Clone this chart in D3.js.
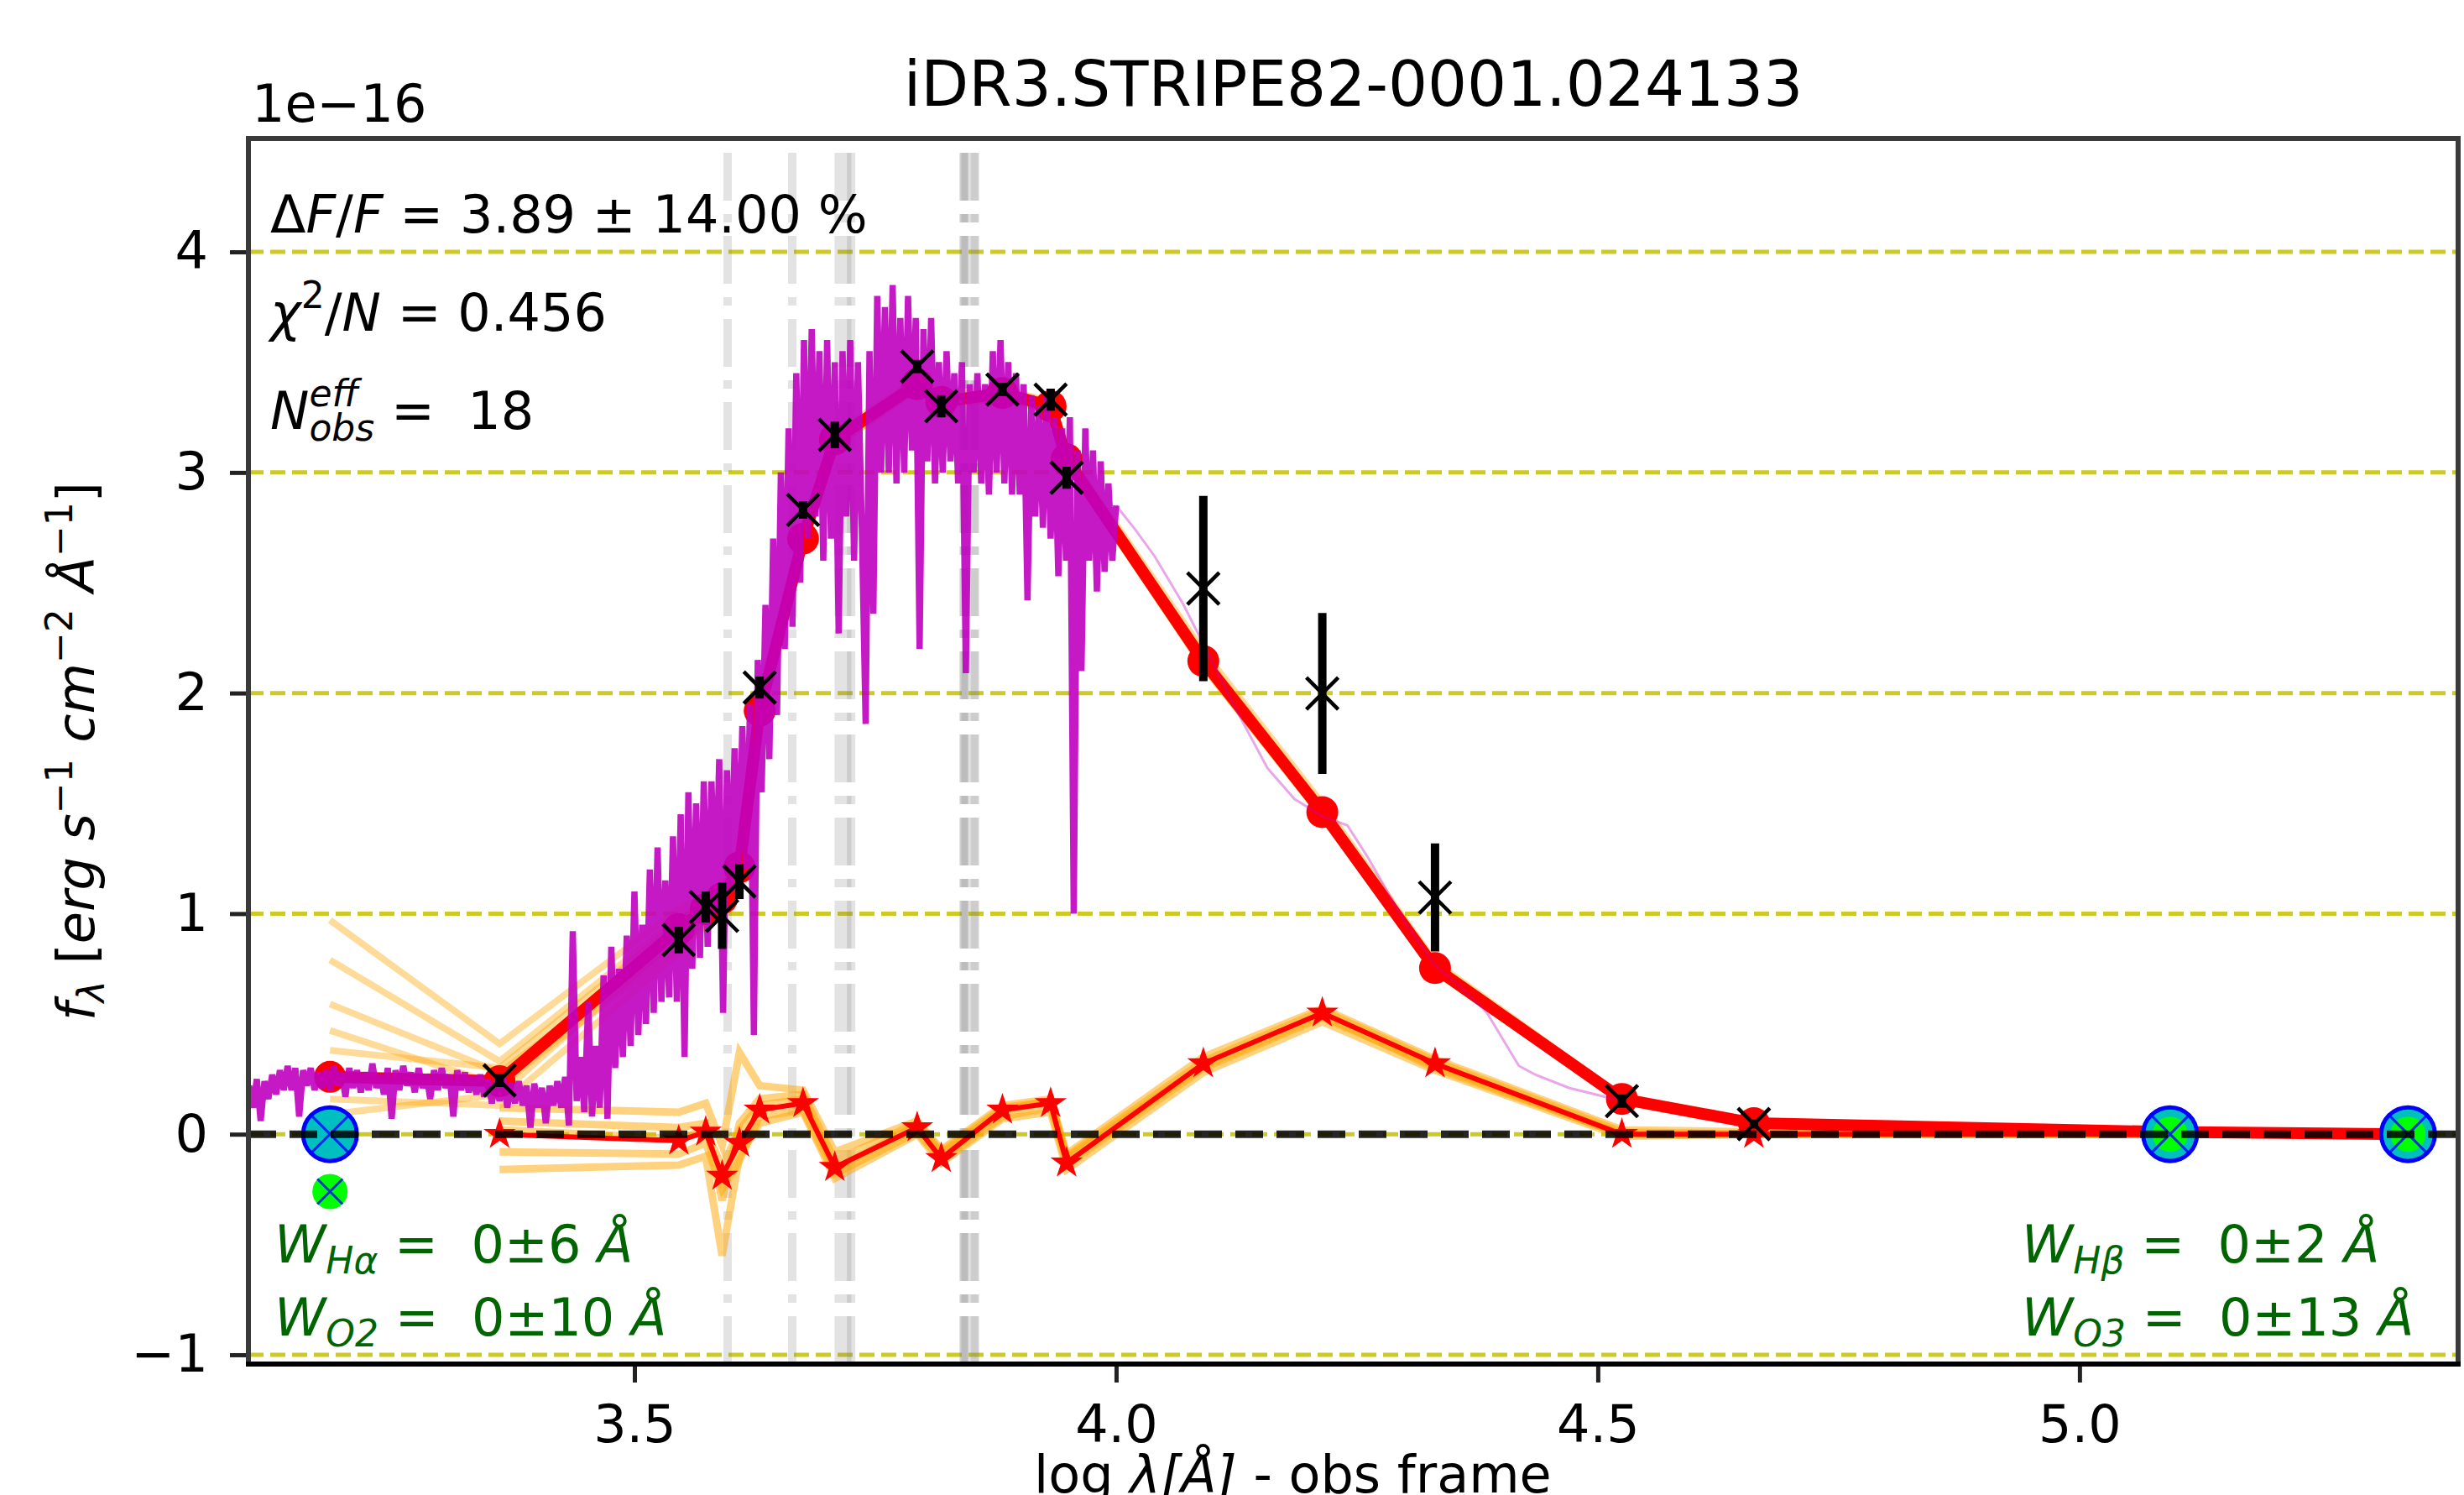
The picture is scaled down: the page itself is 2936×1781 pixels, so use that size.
<!DOCTYPE html>
<html lang="en">
<head>
<meta charset="UTF-8">
<title>iDR3.STRIPE82-0001.024133</title>
<script src="https://d3js.org/d3.v7.min.js"></script>
<style>
  body { margin: 0; background: #fff; }
  svg text { font-family: "DejaVu Sans", sans-serif; white-space: pre; }
  .axis path { display: none; }
  .axis line { stroke: #222; stroke-width: 5; }
  .axis text { font-size: 62px; fill: #000; font-family: "DejaVu Sans", sans-serif; }
</style>
</head>
<body>
<script>
// photometric filters: pivot log(lambda) and fluxes in units of 1e-16
const filterLogLam = [3.184, 3.360, 3.546, 3.574, 3.591, 3.609, 3.630, 3.675, 3.708, 3.7935, 3.8185,
                      3.882, 3.932, 3.9486, 4.0905, 4.214, 4.331, 4.525, 4.662, 5.094, 5.341];
const modelFlux = [0.26, 0.24, 0.93, 1.02, 1.07, 1.21, 1.92, 2.70, 3.15, 3.40, 3.32,
                   3.36, 3.30, 3.06, 2.145, 1.46, 0.753, 0.16, 0.05, 0.01, 0.0];
const obsFlux = [null, 0.244, 0.88, 1.03, 0.99, 1.146, 2.025, 2.83, 3.17, 3.48, 3.30,
                 3.376, 3.33, 2.976, 2.474, 1.998, 1.073, 0.15, 0.046, null, null];
const obsErr = [null, 0.03, 0.06, 0.07, 0.15, 0.08, 0.05, 0.04, 0.06, 0.03, 0.05,
                0.03, 0.05, 0.05, 0.42, 0.365, 0.245, 0.03, 0.02, null, null];
// emission-line model (stars)
const lineFlux = [null, 0.0, -0.03, 0.01, -0.19, -0.04, 0.11, 0.14, -0.15, 0.03, -0.11,
                  0.11, 0.14, -0.13, 0.32, 0.55, 0.32, 0.0, 0.0, 0.0, 0.0];
// flagged points
const flaggedLogLam = [3.184, 5.094, 5.341];
const flaggedFlux = [0, 0, 0];
const flaggedModel = [-0.26, 0, 0];

// bootstrap realisations of the continuum model
const bootModel = [
  [0.97, 0.41, 1.02, 1.08, 1.12, 1.26, 1.96, 2.74, 3.18, 3.42, 3.35, 3.38, 3.32, 3.09, 2.19, 1.50, 0.78, 0.17, 0.06, 0.01, 0.0],
  [0.79, 0.33, 0.98, 1.05, 1.10, 1.24, 1.94, 2.72, 3.16, 3.41, 3.33, 3.37, 3.31, 3.07, 2.17, 1.48, 0.77, 0.17, 0.05, 0.01, 0.0],
  [0.59, 0.28, 0.88, 0.99, 1.04, 1.19, 1.90, 2.68, 3.13, 3.39, 3.31, 3.35, 3.29, 3.05, 2.13, 1.45, 0.74, 0.16, 0.05, 0.01, 0.0],
  [0.47, 0.22, 0.85, 0.97, 1.03, 1.18, 1.89, 2.67, 3.12, 3.38, 3.30, 3.34, 3.28, 3.04, 2.12, 1.44, 0.74, 0.15, 0.05, 0.01, 0.0],
  [0.38, 0.30, 0.96, 1.04, 1.09, 1.23, 1.93, 2.71, 3.16, 3.41, 3.33, 3.37, 3.31, 3.07, 2.16, 1.47, 0.76, 0.16, 0.05, 0.01, 0.0],
  [0.16, 0.13, 0.82, 0.95, 1.01, 1.16, 1.88, 2.66, 3.12, 3.38, 3.30, 3.34, 3.28, 3.04, 2.12, 1.44, 0.74, 0.15, 0.05, 0.01, 0.0],
  [0.09, 0.18, 0.90, 1.00, 1.05, 1.20, 1.91, 2.69, 3.14, 3.39, 3.31, 3.35, 3.29, 3.05, 2.14, 1.45, 0.75, 0.16, 0.05, 0.01, 0.0]
];
// bootstrap realisations of the emission-line model
const bootLines = [
  [null, 0.12, 0.10, 0.14, -0.05, 0.37, 0.22, 0.20, -0.08, 0.06, -0.07, 0.13, 0.16, -0.09, 0.35, 0.57, 0.34, 0.02, 0.01, 0.0, 0.0],
  [null, -0.16, -0.14, -0.10, -0.55, -0.10, 0.05, 0.10, -0.20, 0.00, -0.13, 0.07, 0.10, -0.16, 0.28, 0.51, 0.29, -0.01, 0.0, 0.0, 0.0],
  [null, 0.06, 0.03, 0.05, -0.30, 0.05, 0.16, 0.18, -0.12, 0.05, -0.08, 0.12, 0.15, -0.10, 0.33, 0.56, 0.33, 0.01, 0.0, 0.0, 0.0],
  [null, -0.08, -0.09, -0.04, -0.25, -0.12, 0.08, 0.11, -0.18, 0.01, -0.12, 0.08, 0.12, -0.14, 0.30, 0.53, 0.31, 0.0, 0.0, 0.0, 0.0],
  [null, 0.02, -0.02, 0.02, -0.15, 0.02, 0.13, 0.16, -0.16, 0.04, -0.09, 0.11, 0.15, -0.11, 0.31, 0.54, 0.30, 0.0, 0.0, 0.0, 0.0]
];

// observed spectrum, log(lambda) = specStart + i * specStep
const specStart = 3.100, specStep = 0.004;
const specFlux = [
  0.22, 0.12, 0.25, 0.06, 0.24, 0.16, 0.27, 0.18, 0.29, 0.20,
  0.31, 0.20, 0.30, 0.08, 0.29, 0.22, 0.30, 0.20, 0.28, 0.21,
  0.29, 0.20, 0.31, 0.22, 0.28, 0.17, 0.30, 0.21, 0.29, 0.19,
  0.28, 0.20, 0.32, 0.21, 0.27, 0.18, 0.30, 0.07, 0.29, 0.20,
  0.31, 0.22, 0.28, 0.19, 0.30, 0.21, 0.27, 0.16, 0.29, 0.20,
  0.30, 0.21, 0.27, 0.08, 0.29, 0.20, 0.28, 0.19, 0.26, 0.18,
  0.27, 0.17, 0.25, 0.14, 0.24, 0.15, 0.26, 0.12, 0.23, 0.14,
  0.24, 0.13, 0.22, 0.03, 0.23, 0.12, 0.21, 0.05, 0.22, 0.13,
  0.24, 0.12, 0.26, 0.04, 0.92, 0.15, 0.35, 0.10, 0.60, 0.08,
  0.40, 0.12, 0.72, 0.07, 0.85, 0.30, 0.75, 0.35, 0.90, 0.40,
  1.10, 0.45, 0.95, 0.50, 1.20, 0.55, 1.30, 0.60, 1.15, 0.62,
  1.35, 0.60, 1.45, 0.35, 1.55, 0.75, 1.50, 0.80, 1.60, 0.85,
  1.60, 1.00, 1.70, 0.55, 1.65, 1.10, 1.75, 1.15, 1.85, 1.20,
  1.95, 0.45, 2.15, 1.55, 2.40, 1.70, 2.70, 1.90, 3.00, 2.20,
  3.20, 2.30, 3.45, 2.50, 3.60, 2.70, 3.65, 2.80, 3.55, 2.60,
  3.60, 2.70, 3.50, 2.27, 3.55, 2.80, 3.60, 2.60, 3.50, 2.75,
  1.86, 3.55, 2.36, 3.80, 3.00, 3.75, 3.00, 3.85, 2.95, 3.70,
  3.00, 3.80, 3.10, 3.70, 2.20, 3.65, 3.05, 3.70, 2.95, 3.50,
  3.00, 3.55, 3.05, 3.45, 2.95, 3.50, 2.09, 3.40, 3.00, 3.45,
  2.95, 3.40, 2.90, 3.55, 3.00, 3.60, 2.95, 3.50, 2.90, 3.45,
  2.90, 3.40, 2.42, 3.35, 2.80, 3.30, 2.75, 3.35, 2.70, 3.25,
  2.53, 3.20, 2.60, 3.25, 1.00, 3.10, 2.10, 3.20, 2.60, 3.10,
  2.46, 3.05, 2.55, 2.95, 2.60, 2.85
];
const specTailLogLam = [4.000, 4.02, 4.04, 4.07, 4.10, 4.13, 4.157, 4.185, 4.215, 4.24,
                        4.262, 4.30, 4.33, 4.36, 4.385, 4.418, 4.435, 4.47, 4.507, 4.52];
const specTailFlux = [2.85, 2.74, 2.62, 2.40, 2.14, 1.88, 1.66, 1.52, 1.44, 1.40,
                      1.25, 0.96, 0.77, 0.66, 0.55, 0.31, 0.27, 0.21, 0.17, 0.16];

// emission line positions (obs frame)
const emissionLogLam = [3.5967, 3.6638, 3.7121, 3.7208, 3.7249, 3.8415, 3.8425, 3.8439, 3.8526, 3.8535];
const gridLevels = [-1, 0, 1, 2, 3, 4];
const yTicks = [-1, 0, 1, 2, 3, 4];
const xTicks = [3.5, 4.0, 4.5, 5.0];

// Set dimensions
const width = 2936, height = 1781;
const plot = {left: 296, right: 2929, top: 165, bottom: 1625};

const svg = d3.select("body").append("svg")
    .attr("width", width)
    .attr("height", height);

const x = d3.scaleLinear().domain([3.0993, 5.393]).range([plot.left, plot.right]);
const y = d3.scaleLinear().domain([-1.042, 4.514]).range([plot.bottom, plot.top]);

svg.append("clipPath").attr("id", "clip")
  .append("rect")
    .attr("x", plot.left).attr("y", plot.top)
    .attr("width", plot.right - plot.left).attr("height", plot.bottom - plot.top);

const area = svg.append("g").attr("clip-path", "url(#clip)");

const line = d3.line()
    .defined(d => d[1] != null)
    .x(d => x(d[0]))
    .y(d => y(d[1]));

// yellow dashed levels
area.selectAll(".grid")
    .data(gridLevels)
    .enter().append("line")
    .attr("x1", plot.left).attr("x2", plot.right)
    .attr("y1", d => y(d)).attr("y2", d => y(d))
    .attr("stroke", "#c4c000")
    .attr("stroke-opacity", 0.85)
    .attr("stroke-width", 5)
    .attr("stroke-dasharray", "18,8");

// emission lines (grey dash-dot)
area.selectAll(".eline")
    .data(emissionLogLam)
    .enter().append("line")
    .attr("x1", d => x(d)).attr("x2", d => x(d))
    .attr("y1", plot.bottom).attr("y2", plot.top)
    .attr("stroke", "#808080")
    .attr("stroke-opacity", 0.22)
    .attr("stroke-width", 10)
    .attr("stroke-dasharray", "57,16,10,16");

// bootstrap models
area.selectAll(".bootModel")
    .data(bootModel)
    .enter().append("path")
    .attr("d", vals => line(vals.map((v, i) => [filterLogLam[i], v])))
    .attr("fill", "none")
    .attr("stroke", "orange")
    .attr("stroke-opacity", 0.4)
    .attr("stroke-width", 8);

area.selectAll(".bootLines")
    .data(bootLines)
    .enter().append("path")
    .attr("d", vals => line(vals.map((v, i) => [filterLogLam[i], v])))
    .attr("fill", "none")
    .attr("stroke", "orange")
    .attr("stroke-opacity", 0.5)
    .attr("stroke-width", 9);

// best model
const modelPts = modelFlux.map((v, i) => [filterLogLam[i], v]);
area.append("path")
    .attr("d", line(modelPts))
    .attr("fill", "none")
    .attr("stroke", "red")
    .attr("stroke-width", 14)
    .attr("stroke-linejoin", "round");

area.selectAll(".modelDot")
    .data(modelPts)
    .enter().append("circle")
    .attr("cx", d => x(d[0])).attr("cy", d => y(d[1]))
    .attr("r", 19)
    .attr("fill", "red");

// spectrum
const specPts = specFlux.map((v, i) => [specStart + i * specStep, v]);
area.append("path")
    .attr("d", line(specPts))
    .attr("fill", "none")
    .attr("stroke", "#c000c0")
    .attr("stroke-opacity", 0.9)
    .attr("stroke-width", 7.5)
    .attr("stroke-linejoin", "bevel");

area.append("path")
    .attr("d", line(specTailFlux.map((v, i) => [specTailLogLam[i], v])))
    .attr("fill", "none")
    .attr("stroke", "#c000c0")
    .attr("stroke-opacity", 0.35)
    .attr("stroke-width", 3);

// emission-line model with stars
const linePts = lineFlux.map((v, i) => [filterLogLam[i], v]).filter(d => d[1] != null);
area.append("path")
    .attr("d", line(linePts))
    .attr("fill", "none")
    .attr("stroke", "red")
    .attr("stroke-width", 6);

area.selectAll(".star")
    .data(linePts)
    .enter().append("path")
    .attr("d", d3.symbol(d3.symbolStar).size(460))
    .attr("transform", d => `translate(${x(d[0])},${y(d[1])})`)
    .attr("fill", "red");

// observations with error bars
const obsPts = obsFlux.map((v, i) => ({lam: filterLogLam[i], f: v, e: obsErr[i]})).filter(d => d.f != null);
area.selectAll(".err")
    .data(obsPts)
    .enter().append("line")
    .attr("x1", d => x(d.lam)).attr("x2", d => x(d.lam))
    .attr("y1", d => y(d.f - d.e)).attr("y2", d => y(d.f + d.e))
    .attr("stroke", "#000")
    .attr("stroke-width", 10);

const xMark = 19;
area.selectAll(".obs")
    .data(obsPts)
    .enter().append("path")
    .attr("d", d => {
        const cx = x(d.lam), cy = y(d.f);
        return `M${cx - xMark},${cy - xMark}L${cx + xMark},${cy + xMark}M${cx - xMark},${cy + xMark}L${cx + xMark},${cy - xMark}`;
    })
    .attr("stroke", "#000")
    .attr("stroke-width", 4.5)
    .attr("fill", "none");

// flagged points
area.selectAll(".flag")
    .data(flaggedLogLam)
    .enter().append("circle")
    .attr("cx", d => x(d)).attr("cy", (d, i) => y(flaggedFlux[i]))
    .attr("r", 32)
    .attr("fill", "#00bfbf")
    .attr("stroke", "#0000ff")
    .attr("stroke-width", 5);

area.selectAll(".flagModel")
    .data(flaggedLogLam)
    .enter().append("circle")
    .attr("cx", d => x(d)).attr("cy", (d, i) => y(flaggedModel[i]))
    .attr("r", 21)
    .attr("fill", "#00ff00");

const bx = 22;
const blueX = [];
flaggedLogLam.forEach((d, i) => {
    blueX.push([d, flaggedFlux[i]]);
    if (flaggedModel[i] !== flaggedFlux[i]) blueX.push([d, flaggedModel[i]]);
});
area.selectAll(".bx")
    .data(blueX)
    .enter().append("path")
    .attr("d", d => {
        const cx = x(d[0]), cy = y(d[1]), s = d[1] === 0 ? bx : 15;
        return `M${cx - s},${cy - s}L${cx + s},${cy + s}M${cx - s},${cy + s}L${cx + s},${cy - s}`;
    })
    .attr("stroke", "#0000ff")
    .attr("stroke-opacity", 0.8)
    .attr("stroke-width", 3)
    .attr("fill", "none");

// zero line
area.append("line")
    .attr("x1", plot.left).attr("x2", plot.right)
    .attr("y1", y(0)).attr("y2", y(0))
    .attr("stroke", "#000")
    .attr("stroke-opacity", 0.85)
    .attr("stroke-width", 9)
    .attr("stroke-dasharray", "33,16");

// axes
svg.append("g")
    .attr("class", "axis")
    .attr("transform", `translate(${plot.left},0)`)
    .call(d3.axisLeft(y).tickValues(yTicks).tickSize(22).tickPadding(26)
        .tickFormat(d => d < 0 ? "\u2212" + Math.abs(d) : d));

svg.append("g")
    .attr("class", "axis")
    .attr("transform", `translate(0,${plot.bottom})`)
    .call(d3.axisBottom(x).tickValues(xTicks).tickSize(22).tickPadding(27)
        .tickFormat(d3.format(".1f")));

// frame
svg.append("rect")
    .attr("x", plot.left).attr("y", plot.top)
    .attr("width", plot.right - plot.left).attr("height", plot.bottom - plot.top)
    .attr("fill", "none")
    .attr("stroke", "#3a3a3a")
    .attr("stroke-width", 6);
svg.append("line")
    .attr("x1", plot.left - 3).attr("x2", plot.right + 3)
    .attr("y1", plot.bottom).attr("y2", plot.bottom)
    .attr("stroke", "#000").attr("stroke-width", 6);

// text made of pieces (italic, sub/superscripts)
function richText(parent, x0, y0, parts, fill) {
    const g = parent.append("g").attr("fill", fill || "#000");
    let cx = x0, stackX = null, stackW = 0;
    parts.forEach(p => {
        const px = p.under ? stackX : cx;
        const t = g.append("text")
            .attr("x", px)
            .attr("y", y0 + (p.dy || 0))
            .attr("font-size", p.size || 62)
            .attr("font-style", p.it ? "italic" : "normal")
            .text(p.t);
        const w = t.node().getComputedTextLength();
        if (p.over) { stackX = px; stackW = w; }
        else if (p.under) { cx = stackX + Math.max(w, stackW); }
        else cx = px + w;
    });
}

// title and offset
svg.append("text")
    .attr("x", (plot.left + plot.right) / 2).attr("y", 126)
    .attr("text-anchor", "middle")
    .attr("font-size", 74)
    .text("iDR3.STRIPE82-0001.024133");

svg.append("text")
    .attr("x", 300).attr("y", 145)
    .attr("font-size", 62)
    .text("1e\u221216");

// stats in the upper left
richText(svg, 322, 277, [
    {t: "Δ"}, {t: "F", it: 1}, {t: "/"}, {t: "F", it: 1}, {t: " = 3.89 ± 14.00 %"}
]);
richText(svg, 322, 394, [
    {t: "χ", it: 1}, {t: "2", size: 44, dy: -27}, {t: "/"}, {t: "N", it: 1}, {t: " = 0.456"}
]);
richText(svg, 322, 511, [
    {t: "N", it: 1}, {t: "eff", it: 1, size: 44, dy: -27, over: 1},
    {t: "obs", it: 1, size: 44, dy: 14, under: 1}, {t: " =  18"}
]);

// equivalent widths
const green = "#006400";
richText(svg, 327, 1504, [
    {t: "W", it: 1}, {t: "Hα", it: 1, size: 44, dy: 13}, {t: " =  0±6 "}, {t: "Å", it: 1}
], green);
richText(svg, 327, 1591, [
    {t: "W", it: 1}, {t: "O2", it: 1, size: 44, dy: 13}, {t: " =  0±10 "}, {t: "Å", it: 1}
], green);
richText(svg, 2409, 1504, [
    {t: "W", it: 1}, {t: "Hβ", it: 1, size: 44, dy: 13}, {t: " =  0±2 "}, {t: "Å", it: 1}
], green);
richText(svg, 2409, 1591, [
    {t: "W", it: 1}, {t: "O3", it: 1, size: 44, dy: 13}, {t: " =  0±13 "}, {t: "Å", it: 1}
], green);

// x label
richText(svg, 1232, 1778, [
    {t: "log "}, {t: "λ", it: 1}, {t: "[Å]", it: 1}, {t: " - obs frame"}
]);

// y label
const yl = svg.append("text")
    .attr("transform", `translate(112,${(plot.top + plot.bottom) / 2}) rotate(-90)`)
    .attr("text-anchor", "middle")
    .attr("font-size", 62);
yl.append("tspan").attr("font-style", "italic").text("f");
yl.append("tspan").attr("font-style", "italic").attr("font-size", 44).attr("dy", 12).text("λ");
yl.append("tspan").attr("dy", -12).text(" [");
yl.append("tspan").attr("font-style", "italic").text("erg s");
yl.append("tspan").attr("font-size", 44).attr("dy", -26).text("\u22121");
yl.append("tspan").attr("font-style", "italic").attr("dy", 26).text(" cm");
yl.append("tspan").attr("font-size", 44).attr("dy", -26).text("\u22122");
yl.append("tspan").attr("font-style", "italic").attr("dy", 26).text(" Å");
yl.append("tspan").attr("font-size", 44).attr("dy", -26).text("\u22121");
yl.append("tspan").attr("dy", 26).text("]");
</script>
</body>
</html>
